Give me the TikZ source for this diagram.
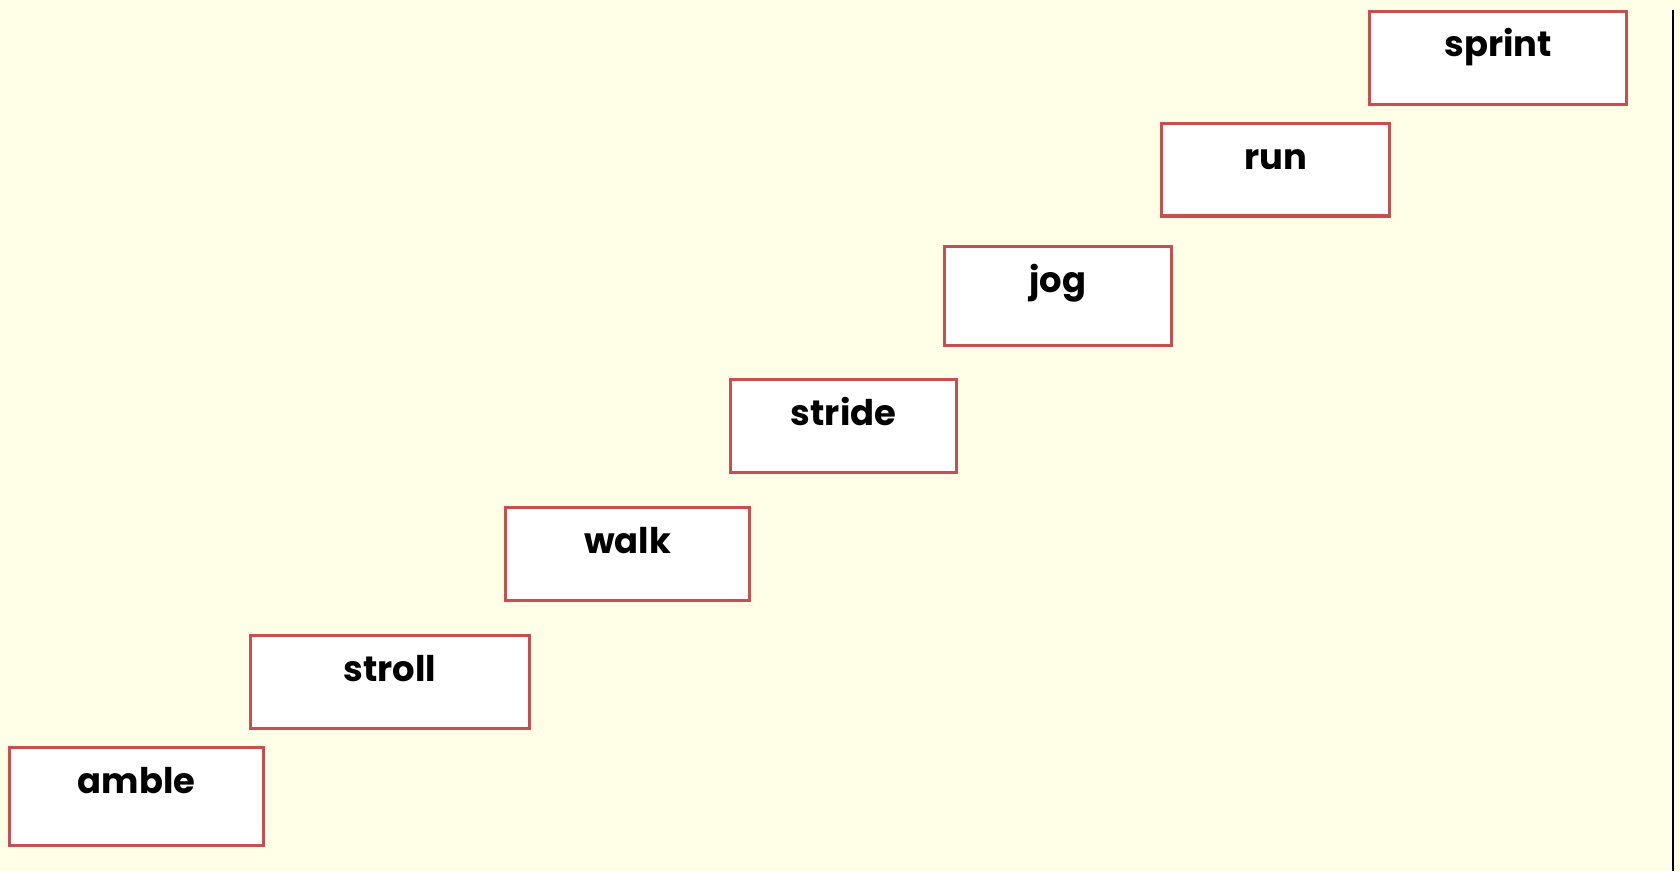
\documentclass[tikz,border=0pt]{standalone}
\usepackage{fontspec}
\setmainfont{Poppins}
\definecolor{paper}{RGB}{255,254,230}
\definecolor{boxred}{RGB}{198,80,80}
\tikzset{
  stepbox/.style={draw=boxred, line width=2.4pt, fill=white, rectangle, inner sep=0pt},
  word/.style={anchor=base, inner sep=0pt, font=\fontsize{26.5}{30}\selectfont\bfseries},
}
\newcommand{\stepnode}[6]{% name, cx, cy, w, h, text
  \node[stepbox, minimum width=#4*0.75pt-2.4pt, minimum height=#5*0.75pt-2.4pt,
        label={[word, yshift=-47*0.75pt]north:#6}] (#1) at (#2,#3) {};
}
\begin{document}
\begin{tikzpicture}[x=0.75pt, y=-0.75pt]
  \fill[paper] (0,0) rectangle (1680,871);
  \useasboundingbox (0,0) rectangle (1680,871);
  % staircase of paces, slowest at the bottom left
  \stepnode{amble}{136.5}{796.5}{257}{101}{amble}
  \stepnode{stroll}{390}{682}{282}{96}{stroll}
  \stepnode{walk}{627.5}{554}{247}{96}{walk}
  \stepnode{stride}{843.5}{426}{229}{96}{stride}
  \stepnode{jog}{1058}{296}{230}{102}{jog}
  \stepnode{run}{1275.5}{169.75}{231}{95.5}{run}
  \stepnode{sprint}{1498}{57.75}{260}{96.5}{sprint}
  % right-hand margin rule
  \coordinate (ruletop) at (1673,10);
  \coordinate (rulebot) at (1673,871);
  \draw[line width=2pt, black] (ruletop) -- (rulebot);
\end{tikzpicture}
\end{document}
